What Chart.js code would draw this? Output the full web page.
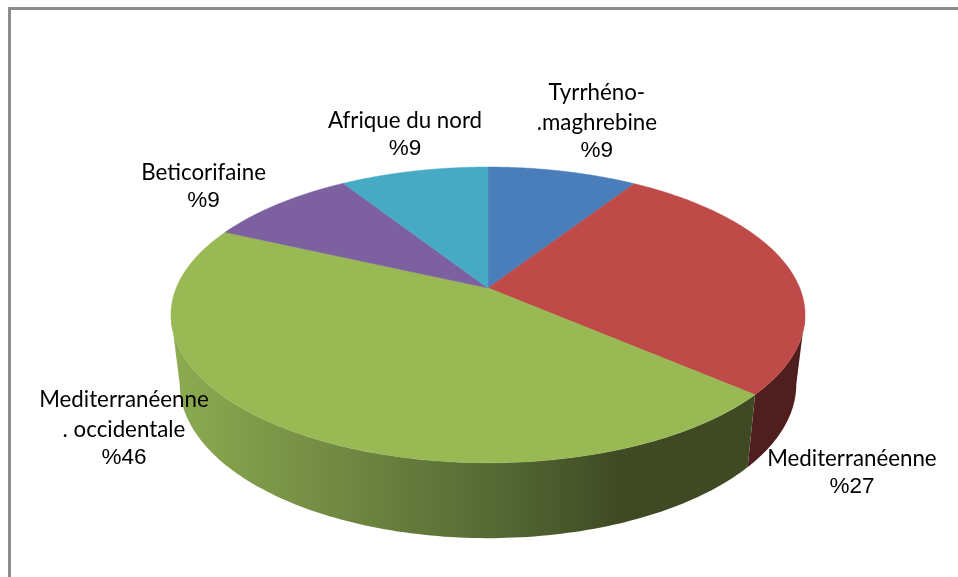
<!DOCTYPE html>
<html>
<head>
<meta charset="utf-8">
<script src="https://cdn.jsdelivr.net/npm/chart.js@4"></script>
<style>
    html, body { margin: 0; background: #fff; overflow: hidden; }
    #frame { position: absolute; left: 8px; top: 7px; right: 0; bottom: 0; border-left: 3px solid #8c8c8c; border-top: 3px solid #8c8c8c; }
    #graph { position: absolute; left: 0; top: 0; }
</style>
</head>
<body>
<div id="frame"></div>
<canvas id="graph" width="958" height="577"></canvas>
<script>
//Pie data
const categories = ['Tyrrhéno-\n.maghrebine', 'Mediterranéenne', 'Mediterranéenne\n. occidentale', 'Beticorifaine', 'Afrique du nord'];
const values = [9.1, 27.3, 45.5, 9.1, 9];
const sliceColors = ['#4a7ebb', '#be4b48', '#98b954', '#7d60a0', '#46aac5'];

//Label shift from the slice's rim point (last line, middle)
const labelShiftX = [34, 63, -164, -75, -9];
const labelShiftY = [-20, 218, 28, -3, -22];

//Tilted disc: top face and bottom face, both in units of the pie radius
const tilt = 0.182;
const topFace = { a: 2.18, b: 1, dy: 0 };
const bottomFace = { a: 2.12, b: 1.042, dy: 68 };

//Move a point of the flat pie onto a tilted face
function project(arc, angle, face) {
    const u = Math.cos(angle);      //angle 0 is right in Chart.js
    const v = -Math.sin(angle);     //up
    const w = 1 + tilt * v;
    return {
        x: arc.x + face.a * arc.outerRadius * u / w,
        y: arc.y + face.dy - face.b * arc.outerRadius * v / w
    };
}

function rimPath(ctx, arc, from, to, face, first) {
    const steps = 120;
    for (let i = 0; i <= steps; i++) {
        const p = project(arc, from + (to - from) * i / steps, face);
        if (i === 0 && first) ctx.moveTo(p.x, p.y);
        else ctx.lineTo(p.x, p.y);
    }
}

function wallFill(ctx, index) {
    if (index === 1) return '#4e1f1e';
    //green side goes dark from left to right
    const g = ctx.createLinearGradient(175, 0, 620, 0);
    g.addColorStop(0, '#8cab50');
    g.addColorStop(0.3, '#768f45');
    g.addColorStop(0.75, '#536633');
    g.addColorStop(1, '#3f4a24');
    return g;
}

//Draws the pie elements of Chart.js as a 3D disc
const discPlugin = {
    id: 'disc',
    beforeDatasetDraw(chart, args) {
        const ctx = chart.ctx;
        const arcs = args.meta.data;

        //side walls, cut where the disc outline turns away from us
        const turn = Math.asin(tilt);
        const red = arcs[1], green = arcs[2];
        [[red, turn, red.endAngle, 1], [green, green.startAngle, Math.PI - turn, 2]].forEach(function (w) {
            ctx.beginPath();
            rimPath(ctx, w[0], w[1], w[2], topFace, true);
            rimPath(ctx, w[0], w[2], w[1], bottomFace, false);
            ctx.closePath();
            ctx.fillStyle = wallFill(ctx, w[3]);
            ctx.fill();
        });

        //top face
        arcs.forEach(function (arc, i) {
            ctx.beginPath();
            ctx.moveTo(arc.x, arc.y);
            rimPath(ctx, arc, arc.startAngle, arc.endAngle, topFace, false);
            ctx.closePath();
            ctx.fillStyle = sliceColors[i];
            ctx.strokeStyle = sliceColors[i];
            ctx.lineWidth = 0.5;
            ctx.fill();
            ctx.stroke();
        });

        //labels
        ctx.textAlign = 'center';
        ctx.textBaseline = 'middle';
        ctx.fillStyle = '#000';
        arcs.forEach(function (arc, i) {
            const rim = project(arc, (arc.startAngle + arc.endAngle) / 2, topFace);
            const x = rim.x + labelShiftX[i];
            const y = rim.y + labelShiftY[i];
            const lines = categories[i].split('\n');
            ctx.font = '22.3px Lato';
            lines.forEach(function (line, k) {
                ctx.fillText(line, x, y - 28 - (lines.length - 1 - k) * 30);
            });
            ctx.font = '22.5px "Liberation Sans"';
            ctx.fillText('%' + Math.round(values[i]), x, y);
        });
        return false;
    }
};

new Chart(document.getElementById('graph'), {
    type: 'pie',
    data: {
        labels: categories,
        datasets: [{
            data: values,
            backgroundColor: sliceColors,
            borderWidth: 0
        }]
    },
    options: {
        responsive: false,
        animation: false,
        layout: { padding: { left: 18, right: 0, top: 145, bottom: 146 } },
        plugins: {
            legend: { display: false },
            tooltip: { enabled: false }
        }
    },
    plugins: [discPlugin]
});
</script>
</body>
</html>
